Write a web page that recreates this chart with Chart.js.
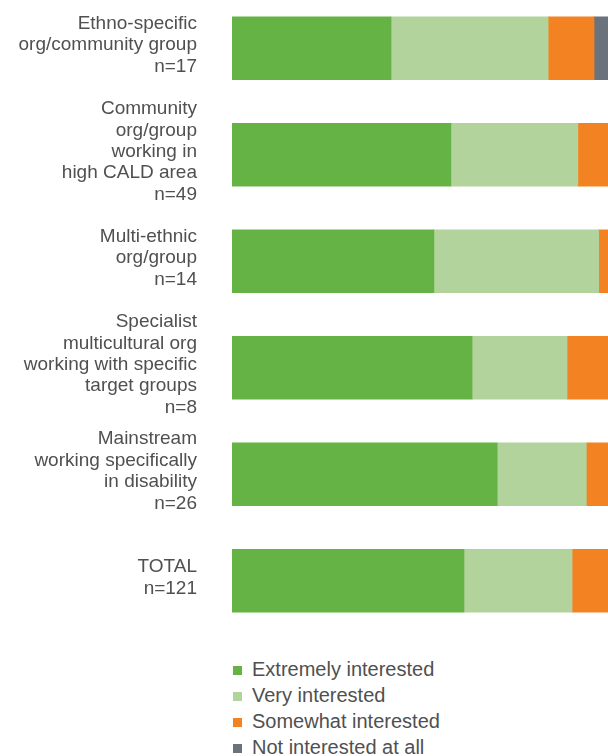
<!DOCTYPE html>
<html>
<head>
<meta charset="utf-8">
<script src="https://cdn.jsdelivr.net/npm/chart.js@4/dist/chart.umd.min.js"></script>
<style>
  html, body { margin: 0; padding: 0; background: #fff; overflow: hidden; width: 608px; height: 756px; }
  #wrap { position: relative; width: 608px; height: 756px; overflow: hidden; }
  #chart { position: absolute; left: 0; top: -5px; }
  #legend { position: absolute; left: 232px; top: 656px; font-family: "Liberation Sans", Arial, sans-serif; font-size: 20px; color: #505050; }
  .item { height: 26px; line-height: 26px; white-space: nowrap; }
  .box { display: inline-block; width: 9px; height: 9px; margin: 0 10px 0 1px; vertical-align: 1px; }
</style>
</head>
<body>
<div id="wrap">
  <canvas id="chart" width="618" height="639"></canvas>
  <div id="legend"></div>
</div>
<script>
// Respondent groups (multi-line labels)
const groups = [
  ['Ethno-specific', 'org/community group', 'n=17'],
  ['Community', 'org/group', 'working in', 'high CALD area', 'n=49'],
  ['Multi-ethnic', 'org/group', 'n=14'],
  ['Specialist', 'multicultural org', 'working with specific', 'target groups', 'n=8'],
  ['Mainstream', 'working specifically', 'in disability', 'n=26'],
  ['TOTAL', 'n=121']
];

const seriesNames = ['Extremely interested', 'Very interested', 'Somewhat interested', 'Not interested at all'];
const seriesColors = ['#65b345', '#b3d39c', '#f38222', '#6a737b'];

// Share of respondents (%)
const extremely = [41.2, 56.7, 52.3, 62.2, 68.7, 60.1];
const very      = [40.7, 32.9, 42.7, 24.6, 23.1, 28.0];
const somewhat  = [11.9, 10.4, 5.0, 13.2, 8.2, 11.1];
const notAtAll  = [6.2, 0, 0, 0, 0, 0.8];

const values = [extremely, very, somewhat, notAtAll];

new Chart(document.getElementById('chart'), {
  type: 'bar',
  data: {
    labels: groups,
    datasets: seriesNames.map((name, i) => ({
      label: name,
      data: values[i],
      backgroundColor: seriesColors[i],
      borderWidth: 0,
      barThickness: 63
    }))
  },
  options: {
    indexAxis: 'y',
    responsive: false,
    animation: false,
    layout: { padding: 0 },
    plugins: {
      legend: { display: false },
      tooltip: { enabled: false }
    },
    scales: {
      x: {
        stacked: true,
        display: false,
        min: 0,
        max: 100
      },
      y: {
        stacked: true,
        grid: { display: false, drawTicks: false },
        border: { display: false },
        afterFit: (scale) => {
          // fixed label column, and no extra room for tall labels
          scale.width = 232;
          scale.paddingTop = 0;
          scale.paddingBottom = 0;
        },
        ticks: {
          autoSkip: false,
          padding: 35,
          labelOffset: -3,
          color: '#505050',
          font: { family: '"Liberation Sans", Arial, sans-serif', size: 19, lineHeight: 1.13 }
        }
      }
    }
  }
});

// Legend, one item per line
const legend = document.getElementById('legend');
seriesNames.forEach((name, i) => {
  const row = document.createElement('div');
  row.className = 'item';
  const box = document.createElement('span');
  box.className = 'box';
  box.style.background = seriesColors[i];
  row.appendChild(box);
  row.appendChild(document.createTextNode(name));
  legend.appendChild(row);
});
</script>
</body>
</html>
